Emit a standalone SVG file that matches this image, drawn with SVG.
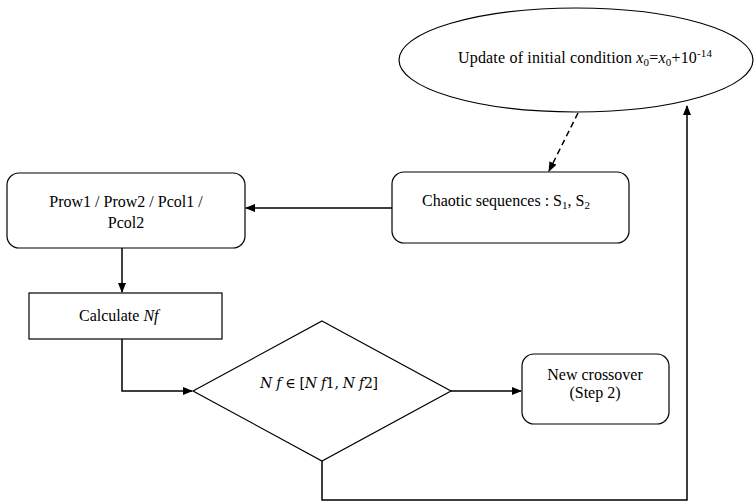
<svg xmlns="http://www.w3.org/2000/svg" width="755" height="502" viewBox="0 0 755 502">
<defs>
<marker id="ah" markerWidth="10" markerHeight="8" refX="9" refY="4" orient="auto" markerUnits="userSpaceOnUse">
<path d="M0,0 L10,4 L0,8 z" fill="#000"/>
</marker>
<style>
.n{fill:#fff;stroke:#000;stroke-width:1.2}
.c{fill:none;stroke:#000;stroke-width:1.5}
.t{font-family:'Liberation Serif','DejaVu Serif',serif;font-size:16px;fill:#000}
.m{font-family:'DejaVu Serif','Liberation Serif',serif;font-size:14px;fill:#000}
.s{font-size:11px}
</style>
</defs>
<rect width="755" height="502" fill="#fff"/>
<g id="connectors">
<line class="c" x1="578" y1="113" x2="549" y2="171" stroke-dasharray="6,4" marker-end="url(#ah)"/>
<line class="c" x1="392" y1="208" x2="246" y2="208" marker-end="url(#ah)"/>
<line class="c" x1="122" y1="248" x2="122" y2="292" marker-end="url(#ah)"/>
<polyline class="c" points="122,339 122,391 192,391" marker-end="url(#ah)"/>
<line class="c" x1="451" y1="391" x2="521" y2="391" marker-end="url(#ah)"/>
<polyline class="c" points="322,461 322,500 687,500 687,106" marker-end="url(#ah)"/>
</g>
<g id="ellipse">
<ellipse class="n" cx="576" cy="60" rx="177" ry="52"/>
<text class="t" x="458" y="63" textLength="254" lengthAdjust="spacing">Update of initial condition <tspan font-style="italic">x</tspan><tspan class="s" dy="3">0</tspan><tspan dy="-3">=</tspan><tspan font-style="italic">x</tspan><tspan class="s" dy="3">0</tspan><tspan dy="-3">+10</tspan><tspan class="s" dy="-6">-14</tspan></text>
</g>
<g id="chaotic">
<rect class="n" x="392" y="172" width="237" height="71" rx="12"/>
<text class="t" x="422" y="206">Chaotic sequences : S<tspan class="s" dy="3">1</tspan><tspan dy="-3">, S</tspan><tspan class="s" dy="3">2</tspan></text>
</g>
<g id="prow">
<rect class="n" x="7" y="173" width="238" height="75" rx="12"/>
<text class="t" x="126" y="207" text-anchor="middle">Prow1 / Prow2 / Pcol1 /</text>
<text class="t" x="126" y="228" text-anchor="middle">Pcol2</text>
</g>
<g id="calculate">
<rect class="n" x="29" y="293" width="193" height="46"/>
<text class="t" x="79" y="321">Calculate <tspan font-style="italic">Nf</tspan></text>
</g>
<g id="decision">
<polygon class="n" points="322,321 451,391 322,461 193,391"/>
<text class="m" x="260" y="388" textLength="118" lengthAdjust="spacing"><tspan font-style="italic">N f</tspan> ∈ [<tspan font-style="italic">N f</tspan>1, <tspan font-style="italic">N f</tspan>2]</text>
</g>
<g id="crossover">
<rect class="n" x="522" y="354" width="147" height="70" rx="12"/>
<text class="t" x="595" y="380" text-anchor="middle">New crossover</text>
<text class="t" x="595" y="398" text-anchor="middle">(Step 2)</text>
</g>
</svg>
